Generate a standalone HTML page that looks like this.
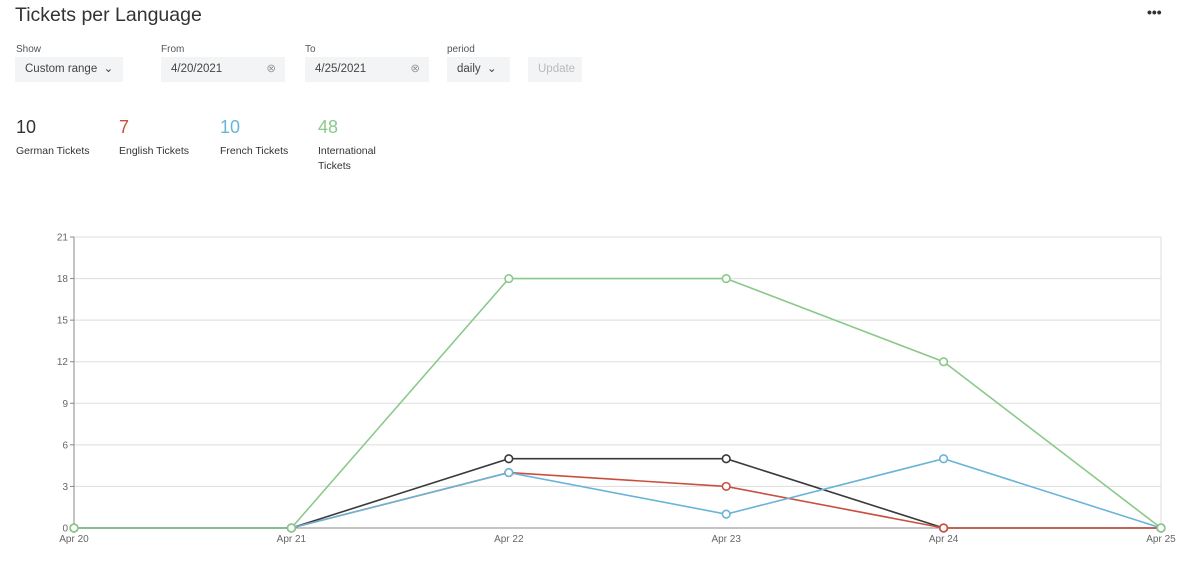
<!DOCTYPE html>
<html><head><meta charset="utf-8"><style>
body{margin:0;width:1200px;height:577px;background:#fff;font-family:"Liberation Sans",sans-serif;color:#333;position:relative;overflow:hidden}
.abs{position:absolute}
.lbl{font-size:10px;color:#555}
.box{background:#f2f4f5;height:25px;font-size:11.5px;color:#444;line-height:25px;box-sizing:border-box;padding-left:10px}
.num{font-size:18px}
.cap{font-size:10.5px;color:#333;line-height:15px}
</style></head><body>
<div class="abs" style="left:15px;top:4px;font-size:19.5px;color:#333">Tickets per Language</div>
<div class="abs" style="left:1147px;top:4px;font-size:14px;font-weight:bold;letter-spacing:0px">•••</div>
<div class="abs lbl" style="left:16px;top:44px">Show</div>
<div class="abs box" style="left:15px;top:57px;width:108px">Custom range &nbsp;⌄</div>
<div class="abs lbl" style="left:161px;top:44px">From</div>
<div class="abs box" style="left:161px;top:57px;width:124px">4/20/2021<span style="position:absolute;right:9px;color:#999">⊗</span></div>
<div class="abs lbl" style="left:305px;top:44px">To</div>
<div class="abs box" style="left:305px;top:57px;width:124px">4/25/2021<span style="position:absolute;right:9px;color:#999">⊗</span></div>
<div class="abs lbl" style="left:447px;top:44px">period</div>
<div class="abs box" style="left:447px;top:57px;width:63px">daily &nbsp;⌄</div>
<div class="abs box" style="left:528px;top:57px;width:54px;color:#bbb">Update</div>

<div class="abs num" style="left:16px;top:117px;color:#333">10</div>
<div class="abs cap" style="left:16px;top:144px">German Tickets</div>
<div class="abs num" style="left:119px;top:117px;color:#c9503f">7</div>
<div class="abs cap" style="left:119px;top:144px">English Tickets</div>
<div class="abs num" style="left:220px;top:117px;color:#6ab4d8">10</div>
<div class="abs cap" style="left:220px;top:144px">French Tickets</div>
<div class="abs num" style="left:318px;top:117px;color:#8bc98b">48</div>
<div class="abs cap" style="left:318px;top:144px">International<br>Tickets</div>

<svg class="abs" style="left:0;top:0" width="1200" height="577" id="chart"></svg>
<script>
const categories=["Apr 20","Apr 21","Apr 22","Apr 23","Apr 24","Apr 25"];
const yTicks=[0,3,6,9,12,15,18,21];
const german=[0,0,5,5,0,0];
const english=[0,0,4,3,0,0];
const french=[0,0,4,1,5,0];
const international=[0,0,18,18,12,0];
const svg=document.getElementById('chart');
const NS='http://www.w3.org/2000/svg';
const x0=74,x1=1161,y0=528,y1=237,yMax=21;
const xs=i=>x0+(x1-x0)*i/(categories.length-1);
const ys=v=>y0-(y0-y1)*v/yMax;
function mk(t,a){const e=document.createElementNS(NS,t);for(const k in a)e.setAttribute(k,a[k]);svg.appendChild(e);return e;}
yTicks.forEach(t=>{
  const g=mk('line',{x1:x0,x2:x1,y1:ys(t),y2:ys(t),stroke:'#ddd','stroke-width':1});
  
  
  const tk=mk('line',{x1:x0-4,x2:x0,y1:ys(t),y2:ys(t),stroke:'#888'});
  
  
  const l=mk('text',{x:x0-6,y:ys(t)+3.5,'text-anchor':'end','font-size':10,fill:'#666','font-family':'Liberation Sans'});
  l.textContent=t;
  
  
});
const ya=mk('line',{x1:x0,x2:x0,y1:y1,y2:y0,stroke:'#888'});


const xa=mk('line',{x1:x0,x2:x1,y1:y0,y2:y0,stroke:'#888'});


const rb=mk('line',{x1:x1,x2:x1,y1:y1,y2:y0,stroke:'#ddd'});


categories.forEach((c,i)=>{
  const l=mk('text',{x:xs(i),y:y0+14,'text-anchor':'middle','font-size':10,fill:'#666','font-family':'Liberation Sans'});
  l.textContent=c;
  
  
});
const series=[[german,'#3a3a3a','german'],[english,'#c9503f','english'],[french,'#6ab4d8','french'],[international,'#8bc98b','international']];
series.forEach(([d,col,n])=>{
  const p=mk('polyline',{points:d.map((v,i)=>xs(i)+','+ys(v)).join(' '),fill:'none',stroke:col,'stroke-width':1.6});
  
  
});
series.forEach(([d,col,n])=>{
  d.forEach((v,i)=>{
    const c=mk('circle',{cx:xs(i),cy:ys(v),r:3.8,fill:'#fff',stroke:col,'stroke-width':1.6});
    
    
  });
});
</script>
</body></html>
